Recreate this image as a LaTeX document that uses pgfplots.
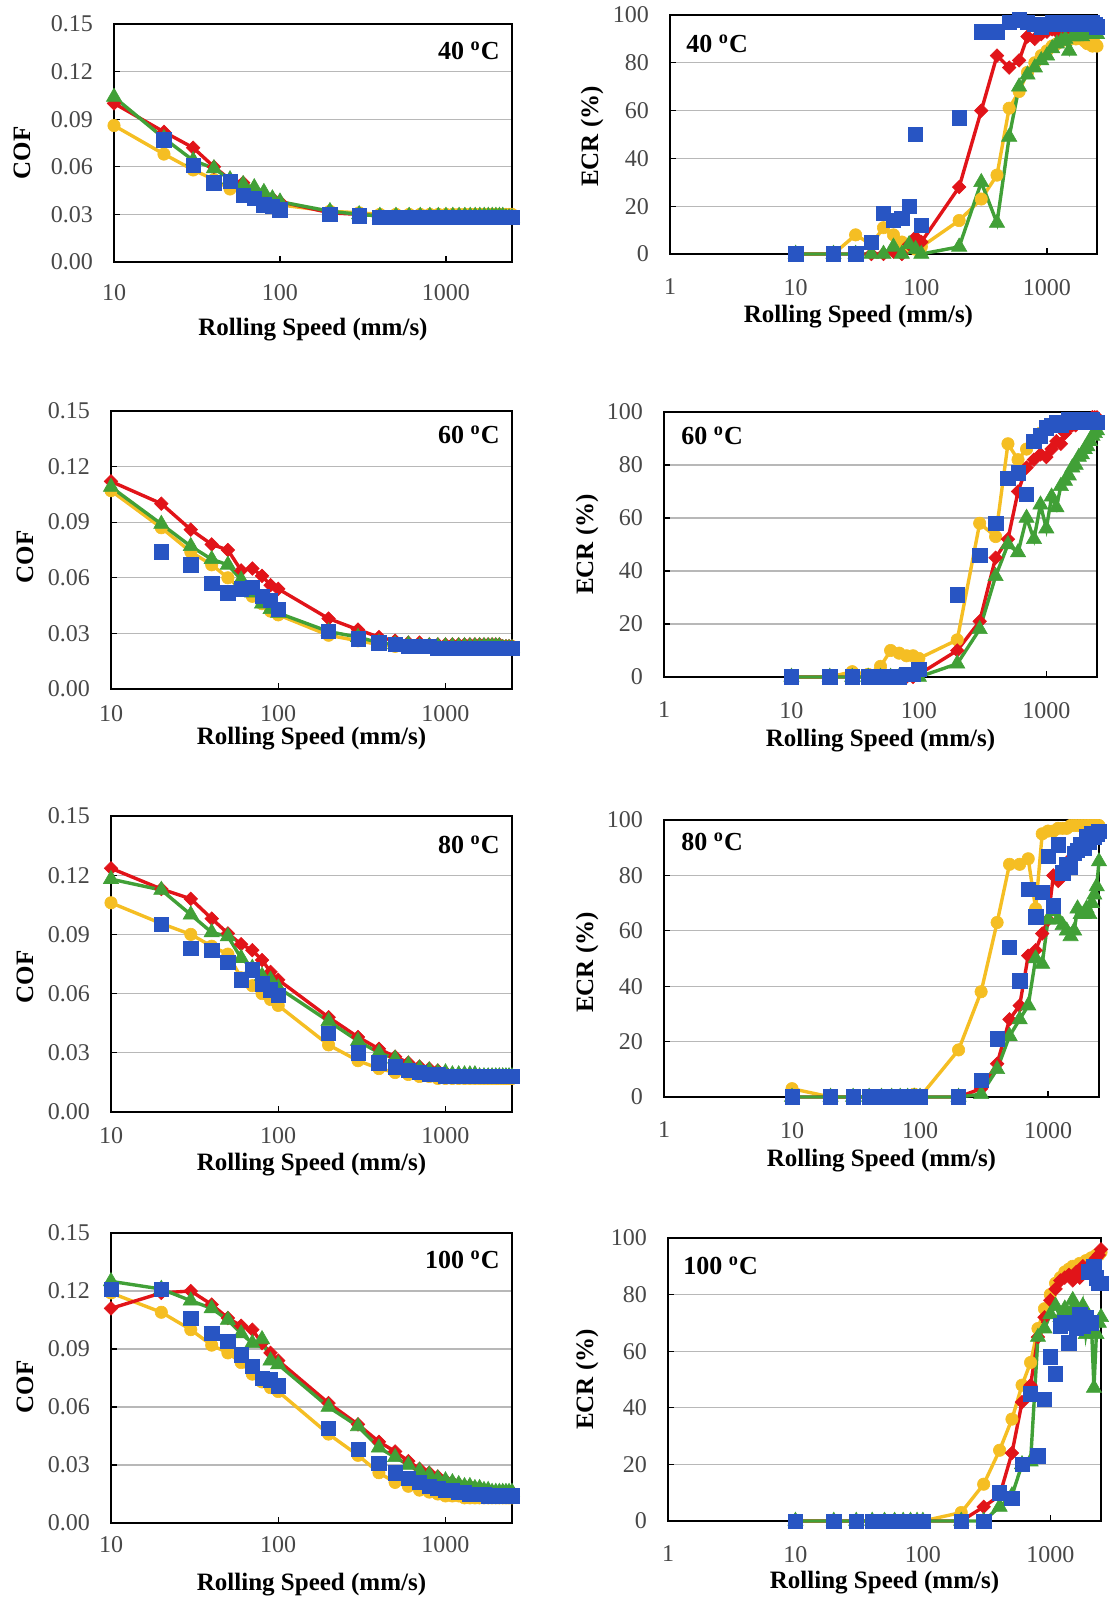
\documentclass[border=0pt]{standalone}
\usepackage{fontspec}
\setmainfont{Liberation Serif}
\usepackage{pgfplots}
\usepackage{pgfplotstable}
\pgfplotsset{compat=1.18}
\definecolor{cred}{RGB}{225,20,25}
\definecolor{cgold}{RGB}{245,190,35}
\definecolor{cgreen}{RGB}{65,160,55}
\definecolor{cblue}{RGB}{40,85,195}

% ---------------- COF tables ----------------
\pgfplotstableread{
x r o g b
10 0.100 0.086 0.104 nan
20 0.082 0.068 0.078 0.077
30 0.072 0.058 0.064 0.061
40 0.060 0.052 0.059 0.050
50 0.052 0.046 0.052 0.051
60 0.050 0.044 0.049 0.042
70 0.045 0.042 0.047 0.040
80 0.042 0.040 0.044 0.036
90 0.040 0.038 0.040 0.035
100 0.038 0.036 0.038 0.033
200 0.031 0.032 0.032 0.030
300 0.030 0.031 0.030 0.029
400 0.029 0.030 0.029 0.028
500 0.029 0.030 0.029 0.028
600 0.029 0.030 0.029 0.028
700 0.029 0.030 0.029 0.028
800 0.029 0.030 0.029 0.028
900 0.029 0.030 0.029 0.028
1000 0.029 0.030 0.029 0.028
1100 0.029 0.030 0.029 0.028
1200 0.029 0.030 0.029 0.028
1300 0.029 0.030 0.029 0.028
1400 0.029 0.030 0.029 0.028
1500 0.029 0.030 0.029 0.028
1600 0.029 0.030 0.029 0.028
1700 0.029 0.030 0.029 0.028
1800 0.029 0.030 0.029 0.028
1900 0.029 0.030 0.029 0.028
2000 0.029 0.030 0.029 0.028
2100 0.029 0.030 0.029 0.028
2200 0.029 0.030 0.029 0.028
2300 0.029 0.030 0.028 0.028
2400 0.029 0.030 0.028 0.028
2500 0.029 0.030 0.028 0.028
}\cofA
\pgfplotstableread{
x r o g b
10 0.112 0.107 0.109 nan
20 0.100 0.087 0.089 0.074
30 0.086 0.074 0.077 0.067
40 0.078 0.067 0.070 0.057
50 0.075 0.060 0.067 0.052
60 0.064 0.054 0.059 0.054
70 0.065 0.050 0.052 0.055
80 0.061 0.046 0.046 0.050
90 0.056 0.042 0.043 0.048
100 0.054 0.040 0.041 0.043
200 0.038 0.029 0.031 0.031
300 0.032 0.026 0.028 0.027
400 0.028 0.024 0.025 0.025
500 0.026 0.023 0.024 0.024
600 0.025 0.023 0.024 0.023
700 0.025 0.023 0.023 0.023
800 0.024 0.023 0.023 0.023
900 0.024 0.023 0.023 0.022
1000 0.024 0.023 0.023 0.022
1100 0.024 0.023 0.023 0.022
1200 0.024 0.023 0.023 0.022
1300 0.024 0.023 0.023 0.022
1400 0.024 0.023 0.023 0.022
1500 0.024 0.023 0.023 0.022
1600 0.024 0.023 0.023 0.022
1700 0.024 0.023 0.023 0.022
1800 0.024 0.023 0.023 0.022
1900 0.024 0.023 0.023 0.022
2000 0.024 0.023 0.023 0.022
2100 0.024 0.023 0.023 0.022
2200 0.023 0.023 0.022 0.022
2300 0.023 0.023 0.022 0.022
2400 0.023 0.023 0.022 0.022
2500 0.023 0.023 0.022 0.022
}\cofB
\pgfplotstableread{
x r o g b
10 0.1235 0.106 0.118 nan
20 0.113 0.0955 0.1125 0.095
30 0.108 0.090 0.100 0.083
40 0.098 0.084 0.091 0.082
50 0.0905 0.080 0.089 0.076
60 0.085 0.068 0.078 0.067
70 0.082 0.064 0.073 0.072
80 0.077 0.060 0.069 0.065
90 0.071 0.057 0.067 0.062
100 0.067 0.054 0.063 0.059
200 0.048 0.034 0.046 0.040
300 0.038 0.026 0.036 0.030
400 0.032 0.022 0.030 0.025
500 0.028 0.020 0.027 0.023
600 0.025 0.019 0.024 0.021
700 0.023 0.018 0.022 0.020
800 0.022 0.018 0.021 0.019
900 0.021 0.017 0.020 0.019
1000 0.020 0.017 0.020 0.018
1100 0.019 0.017 0.019 0.018
1200 0.019 0.017 0.019 0.018
1300 0.019 0.017 0.019 0.018
1400 0.019 0.017 0.019 0.018
1500 0.019 0.017 0.019 0.018
1600 0.018 0.017 0.018 0.018
1700 0.018 0.017 0.018 0.018
1800 0.018 0.017 0.018 0.018
1900 0.018 0.017 0.018 0.018
2000 0.018 0.017 0.018 0.018
2100 0.018 0.017 0.018 0.018
2200 0.018 0.017 0.018 0.018
2300 0.018 0.017 0.018 0.018
2400 0.018 0.017 0.018 0.018
2500 0.018 0.017 0.018 0.018
}\cofC
\pgfplotstableread{
x r o g b
10 0.111 0.119 0.125 0.121
20 0.119 0.109 0.121 0.121
30 0.120 0.100 0.115 0.106
40 0.113 0.092 0.111 0.098
50 0.106 0.088 0.105 0.094
60 0.102 0.083 0.098 0.087
70 0.100 0.077 0.093 0.081
80 0.093 0.073 0.095 0.075
90 0.088 0.070 0.084 0.074
100 0.084 0.068 0.082 0.071
200 0.062 0.046 0.060 0.049
300 0.051 0.035 0.050 0.038
400 0.042 0.026 0.039 0.031
500 0.037 0.021 0.034 0.026
600 0.032 0.019 0.030 0.023
700 0.028 0.017 0.027 0.021
800 0.026 0.016 0.025 0.019
900 0.024 0.015 0.023 0.018
1000 0.022 0.014 0.022 0.017
1100 0.021 0.014 0.021 0.017
1200 0.020 0.014 0.020 0.016
1300 0.019 0.013 0.019 0.016
1400 0.019 0.013 0.019 0.015
1500 0.018 0.013 0.018 0.015
1600 0.018 0.013 0.018 0.015
1700 0.017 0.013 0.017 0.015
1800 0.017 0.013 0.017 0.014
1900 0.016 0.013 0.016 0.014
2000 0.016 0.013 0.016 0.014
2100 0.016 0.013 0.016 0.014
2200 0.016 0.013 0.016 0.014
2300 0.016 0.013 0.016 0.014
2400 0.016 0.013 0.016 0.014
2500 0.016 0.013 0.016 0.014
}\cofD

% ---------------- ECR tables ----------------
\pgfplotstableread{
x r o g b
10 0 0 0 0
20 0 0 0 0
30 0 8 0 0
40 0 4 0 5
50 0 11 0 17
60 1 8 3 14
70 0 5 0 15
80 4 3 4 20
90 7 2 2 50
100 5 3 0 12
200 28 14 3 57
300 60 23 30 93
400 83 33 13 93
500 78 61 49 97
600 81 68 70 98
700 91 76 75 97
800 90 80 78 96
900 92 83 81 95
1000 93 85 83 96
1100 94 87 86 97
1200 93 88 88 96
1300 95 89 89 97
1400 94 90 90 96
1500 95 90 85 97
1600 95 91 91 96
1700 96 90 91 97
1800 95 91 92 96
1900 96 90 91 97
2000 95 89 92 96
2100 96 88 92 97
2200 95 88 92 96
2300 96 87 93 97
2400 95 88 92 96
2500 95 87 92 95
}\ecrA
\pgfplotstableread{
x r o g b
10 0 0 0 0
20 0 0 0 0
30 0 2 0 0
40 0 1 0 0
50 0 4 0 0
60 0 10 0 0
70 0 9 0 0
80 0 8 0 1
90 0 8 0 1
100 1 7 0 3
200 10 14 5 31
300 21 58 18 46
400 45 53 38 58
500 52 88 50 75
600 70 82 47 77
700 79 86 60 69
800 82 89 52 89
900 84 92 65 91
1000 83 94 56 94
1100 86 95 68 95
1200 89 95 64 96
1300 88 96 72 95
1400 92 96 74 96
1500 94 96 76 97
1600 95 96 79 96
1700 95 97 80 97
1800 96 97 83 96
1900 96 97 84 97
2000 97 97 86 96
2100 97 97 87 97
2200 97 97 89 96
2300 98 97 91 97
2400 98 97 92 96
2500 98 97 93 96
}\ecrB
\pgfplotstableread{
x r o g b
10 0 3 0 0
20 0 0 0 0
30 0 0 0 0
40 0 0 0 0
50 0 0 0 0
60 0 0 0 0
70 0 0 0 0
80 0 0 0 0
90 0 1 0 0
100 0 0 0 0
200 0 17 0 0
300 3 38 1 6
400 12 63 10 21
500 28 84 22 54
600 33 84 28 42
700 51 86 33 75
800 53 68 50 65
900 59 95 48 74
1000 64 96 64 87
1100 80 96 67 69
1200 78 97 64 91
1300 82 97 62 81
1400 84 97 60 84
1500 86 98 58 83
1600 87 98 60 88
1700 88 98 68 89
1800 89 98 66 91
1900 90 98 66 90
2000 91 98 68 94
2100 92 98 66 92
2200 93 98 70 95
2300 94 98 73 94
2400 95 98 76 95
2500 96 98 85 96
}\ecrC
\pgfplotstableread{
x r o g b
10 0 0 0 0
20 0 0 0 0
30 0 0 0 0
40 0 0 0 0
50 0 0 0 0
60 0 0 0 0
70 0 0 0 0
80 0 0 0 0
90 0 0 0 0
100 0 0 0 0
200 0 3 0 0
300 5 13 0 0
400 9 25 5 10
500 24 36 9 8
600 42 48 20 20
700 48 56 21 45
800 65 68 65 23
900 72 75 68 43
1000 78 80 73 58
1100 82 84 76 52
1200 85 86 72 69
1300 86 88 75 70
1400 87 89 73 63
1500 85 90 78 70
1600 88 90 75 68
1700 86 91 70 73
1800 90 91 76 69
1900 89 92 66 72
2000 89 92 72 88
2100 91 93 70 70
2200 92 93 47 90
2300 93 94 66 86
2400 94 94 70 84
2500 96 95 72 84
}\ecrD

\pgfplotsset{every axis/.append style={
    scale only axis, clip=false, anchor=south west,
    axis line style={black, line width=1pt},
    tick style={black, line width=0.6pt}, major tick length=3pt, tick align=inside,
    xtick pos=bottom, ytick pos=left,
    ymajorgrids, grid style={black!28, line width=0.6pt},
    tick label style={font=\fontsize{12}{14}\selectfont, text=black!72},
    yticklabel style={xshift=-7pt},
    label style={font=\bfseries\fontsize{12.5}{15}\selectfont},
  }}
\tikzset{mytemp/.style={inner sep=0pt, font=\bfseries\fontsize{13}{15}\selectfont}}
\newcommand{\fourplots}[1]{%
  \addplot[cgold, line width=1.7pt, mark=*, mark size=3.1pt, mark options={solid, line width=0.3pt}] table[x=x,y=o]{#1};
  \addplot[cred, line width=1.7pt, mark=square*, mark size=2.4pt, mark options={solid, rotate=45, line width=0.3pt}] table[x=x,y=r]{#1};
  \addplot[cgreen, line width=1.7pt, mark=triangle*, mark size=4.4pt, mark options={solid, line width=0.3pt}] table[x=x,y=g]{#1};
  \addplot[cblue, only marks, mark=square*, mark size=3.6pt, mark options={solid, line width=0.3pt}] table[x=x,y=b]{#1};
}

\begin{document}
\begin{tikzpicture}
\path[use as bounding box] (0,0) rectangle (554.5pt,798.5pt);

% Row 1
\begin{axis}[xmode=log, xmin=10, xmax=2500, xtick={10,100,1000}, xticklabels={10,100,1000}, xminorticks=false,
  ymin=0, ymax=0.15, ytick={0,0.03,0.06,0.09,0.12,0.15}, yticklabels={0.00,0.03,0.06,0.09,0.12,0.15},
  xlabel={Rolling Speed (mm/s)}, ylabel={COF},
  at={(57pt,667.5pt)}, width=199pt, height=119pt,
  xticklabel style={yshift=-7.5pt},
  xlabel style={at={([yshift=-34pt]axis description cs:0.5,0)}, anchor=center},
  ylabel style={at={([xshift=-46pt,yshift=-5pt]axis description cs:0,0.5)}, anchor=center}]
\fourplots{\cofA}
\node[mytemp, anchor=east, xshift=-6pt, yshift=-13.5pt] at (rel axis cs:1,1) {40 \textsuperscript{o}C};
\end{axis}

\begin{axis}[xmode=log, xmin=1, xmax=2500, xtick={1,10,100,1000}, xticklabels={1,10,100,1000}, xminorticks=false,
  ymin=0, ymax=100, ytick={0,20,40,60,80,100}, yticklabels={0,20,40,60,80,100},
  xlabel={Rolling Speed (mm/s)}, ylabel={ECR (\%)},
  at={(335pt,671.5pt)}, width=213.5pt, height=119.5pt,
  xticklabel style={yshift=-9pt},
  xlabel style={at={([xshift=-12.5pt,yshift=-31.5pt]axis description cs:0.5,0)}, anchor=center},
  ylabel style={at={([xshift=-39pt,yshift=-1pt]axis description cs:0,0.5)}, anchor=center}]
\fourplots{\ecrA}
\node[mytemp, anchor=west, xshift=8pt, yshift=-14.5pt] at (rel axis cs:0,1) {40 \textsuperscript{o}C};
\end{axis}

% Row 2
\begin{axis}[xmode=log, xmin=10, xmax=2500, xtick={10,100,1000}, xticklabels={10,100,1000}, xminorticks=false,
  ymin=0, ymax=0.15, ytick={0,0.03,0.06,0.09,0.12,0.15}, yticklabels={0.00,0.03,0.06,0.09,0.12,0.15},
  xlabel={Rolling Speed (mm/s)}, ylabel={COF},
  at={(55.5pt,454pt)}, width=200.5pt, height=139pt,
  xticklabel style={yshift=-4.5pt},
  xlabel style={at={([yshift=-25pt]axis description cs:0.5,0)}, anchor=center},
  ylabel style={at={([xshift=-43pt,yshift=-3.5pt]axis description cs:0,0.5)}, anchor=center}]
\fourplots{\cofB}
\node[mytemp, anchor=east, xshift=-6pt, yshift=-12pt] at (rel axis cs:1,1) {60 \textsuperscript{o}C};
\end{axis}

\begin{axis}[xmode=log, xmin=1, xmax=2500, xtick={1,10,100,1000}, xticklabels={1,10,100,1000}, xminorticks=false,
  ymin=0, ymax=100, ytick={0,20,40,60,80,100}, yticklabels={0,20,40,60,80,100},
  xlabel={Rolling Speed (mm/s)}, ylabel={ECR (\%)},
  at={(332pt,460pt)}, width=216.5pt, height=132.5pt,
  xticklabel style={yshift=-9pt},
  xlabel style={at={([yshift=-32pt]axis description cs:0.5,0)}, anchor=center},
  ylabel style={at={([xshift=-38.5pt]axis description cs:0,0.5)}, anchor=center}]
\fourplots{\ecrB}
\node[mytemp, anchor=west, xshift=8.5pt, yshift=-12pt] at (rel axis cs:0,1) {60 \textsuperscript{o}C};
\end{axis}

% Row 3
\begin{axis}[xmode=log, xmin=10, xmax=2500, xtick={10,100,1000}, xticklabels={10,100,1000}, xminorticks=false,
  ymin=0, ymax=0.15, ytick={0,0.03,0.06,0.09,0.12,0.15}, yticklabels={0.00,0.03,0.06,0.09,0.12,0.15},
  xlabel={Rolling Speed (mm/s)}, ylabel={COF},
  at={(55.5pt,242.5pt)}, width=200.5pt, height=148pt,
  xticklabel style={yshift=-4pt},
  xlabel style={at={([yshift=-26.5pt]axis description cs:0.5,0)}, anchor=center},
  ylabel style={at={([xshift=-43pt,yshift=-6.5pt]axis description cs:0,0.5)}, anchor=center}]
\fourplots{\cofC}
\node[mytemp, anchor=east, xshift=-6pt, yshift=-14.5pt] at (rel axis cs:1,1) {80 \textsuperscript{o}C};
\end{axis}

\begin{axis}[xmode=log, xmin=1, xmax=2500, xtick={1,10,100,1000}, xticklabels={1,10,100,1000}, xminorticks=false,
  ymin=0, ymax=100, ytick={0,20,40,60,80,100}, yticklabels={0,20,40,60,80,100},
  xlabel={Rolling Speed (mm/s)}, ylabel={ECR (\%)},
  at={(332pt,250pt)}, width=217.5pt, height=138.5pt,
  xticklabel style={yshift=-9pt},
  xlabel style={at={([yshift=-32pt]axis description cs:0.5,0)}, anchor=center},
  ylabel style={at={([xshift=-38.5pt,yshift=-2pt]axis description cs:0,0.5)}, anchor=center}]
\fourplots{\ecrC}
\node[mytemp, anchor=west, xshift=8.5pt, yshift=-11pt] at (rel axis cs:0,1) {80 \textsuperscript{o}C};
\end{axis}

% Row 4
\begin{axis}[xmode=log, xmin=10, xmax=2500, xtick={10,100,1000}, xticklabels={10,100,1000}, xminorticks=false,
  ymin=0, ymax=0.15, ytick={0,0.03,0.06,0.09,0.12,0.15}, yticklabels={0.00,0.03,0.06,0.09,0.12,0.15},
  xlabel={Rolling Speed (mm/s)}, ylabel={COF},
  at={(55.5pt,37pt)}, width=200.5pt, height=145pt,
  xticklabel style={yshift=-3pt},
  xlabel style={at={([yshift=-31pt]axis description cs:0.5,0)}, anchor=center},
  ylabel style={at={([xshift=-43pt,yshift=-4.5pt]axis description cs:0,0.5)}, anchor=center}]
\fourplots{\cofD}
\node[mytemp, anchor=east, xshift=-6pt, yshift=-13.5pt] at (rel axis cs:1,1) {100 \textsuperscript{o}C};
\end{axis}

\begin{axis}[xmode=log, xmin=1, xmax=2500, xtick={1,10,100,1000}, xticklabels={1,10,100,1000}, xminorticks=false,
  ymin=0, ymax=100, ytick={0,20,40,60,80,100}, yticklabels={0,20,40,60,80,100},
  xlabel={Rolling Speed (mm/s)}, ylabel={ECR (\%)},
  at={(334pt,38pt)}, width=216.5pt, height=141.5pt,
  xticklabel style={yshift=-9pt},
  xlabel style={at={([yshift=-31pt]axis description cs:0.5,0)}, anchor=center},
  ylabel style={at={([xshift=-40.5pt]axis description cs:0,0.5)}, anchor=center}]
\fourplots{\ecrD}
\node[mytemp, anchor=west, xshift=7.5pt, yshift=-14pt] at (rel axis cs:0,1) {100 \textsuperscript{o}C};
\end{axis}
\end{tikzpicture}
\end{document}
